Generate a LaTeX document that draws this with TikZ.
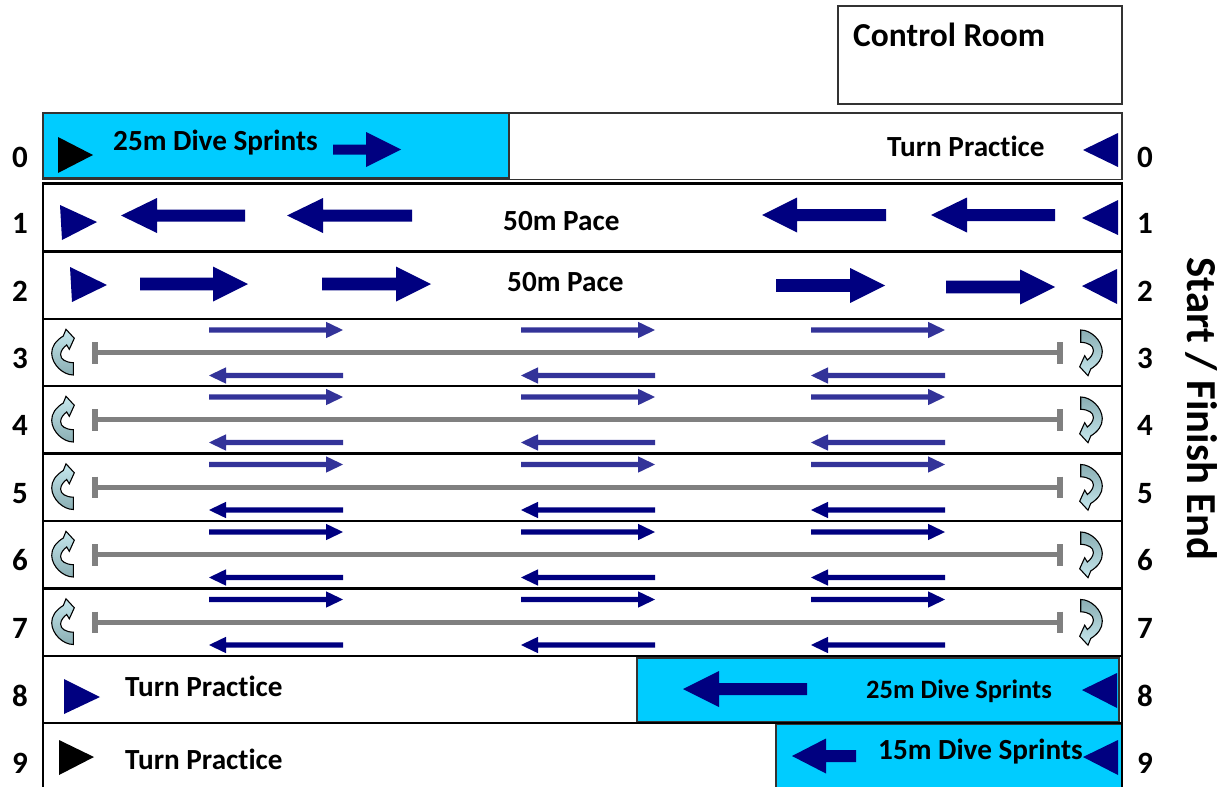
\documentclass[tikz,border=0pt]{standalone}
\usepackage{fontspec}
\setmainfont{Carlito}[Ligatures=CommonOff]
\definecolor{navyc}{HTML}{000080}
\definecolor{bluec}{HTML}{333399}
\definecolor{cyanc}{HTML}{00CCFF}
\definecolor{grayc}{HTML}{808080}
\definecolor{iconlt}{HTML}{C6E8EE}
\definecolor{icondk}{HTML}{8AAEB3}
\definecolor{boxline}{HTML}{333333}
\newcommand\blockarrow[7]{\fill[fill=#7] (#1,#4) -- (#2,#4-#6) -- (#2,#4-#5) -- (#3,#4-#5) -- (#3,#4+#5) -- (#2,#4+#5) -- (#2,#4+#6) -- cycle;}
\newcommand\uturnpath{(10.3,22.5) -- (10.3,10.2) .. controls (3,10) and (-2.5,7) .. (-2.4,2)
    .. controls (-2.3,-2) and (1,-5.5) .. (3.7,-7.5) -- (6.3,-3.2) -- (11.3,-14.2)
    -- (3,-23.2) -- (0.3,-16.5) .. controls (-7,-12) and (-11.5,-6) .. (-11.3,1)
    .. controls (-11,12) and (0,22.5) .. cycle}
\tikzset{
  lbl/.style={font=\fontsize{29.2}{31}\selectfont\bfseries, inner sep=0pt, anchor=base west},
  num/.style={font=\fontsize{31}{33}\selectfont\bfseries, inner sep=0pt, anchor=center},
  laneline/.style={line width=2.5pt, black},
  cyanbox/.style={fill=cyanc, draw=boxline, line width=1.5pt},
  iconL/.pic={\draw[line width=1.1pt, top color=iconlt, bottom color=icondk] \uturnpath;},
  iconR/.pic={\draw[line width=1.1pt, top color=icondk, bottom color=iconlt] \uturnpath;},
}
\begin{document}
\begin{tikzpicture}[x=1pt,y=-1pt]
\useasboundingbox[fill=white] (0,0) rectangle (1232,787);
% cyan boxes
\draw[cyanbox] (43,113) rectangle (509,178);
\draw[cyanbox] (637,658) rectangle (1119,722);
\draw[cyanbox] (776,724) rectangle (1122,790);
% control room
\draw[boxline, line width=1.5pt] (838,6) rectangle (1122,104);
\node[lbl, font=\fontsize{33.5}{35}\selectfont\bfseries] (ctrl) at (853,46.7) {Control Room};
% lane outlines
\draw[line width=1.8pt, boxline] (43,113) rectangle (1122,179.5);
\draw[laneline] (43,183.5) rectangle (1122,251.5);
\draw[laneline] (43,251.5) -- (43,790);
\draw[laneline] (1122,251.5) -- (1122,790);
\foreach \yy in {319,386,453.5,521,588.5,656,723} {\draw[laneline] (43,\yy) -- (1122,\yy);}
% lane numbers
\foreach \n/\yy in {0/157,1/223,2/291,3/358,4/425,5/494,6/560,7/628,8/696,9/763} {
  \node[num] (L\n) at (20,\yy) {\n};
  \node[num] (R\n) at (1145,\yy) {\n};
}
\node[font=\fontsize{42.7}{44}\selectfont\bfseries, rotate=-90, inner sep=0pt] (sfe) at (1201,409) {Start / Finish End};
% lane 0
\fill[black] (58,137) -- (93,155) -- (58,173) -- cycle;
\node[lbl] (t0a) at (113,150) {25m Dive Sprints};
\blockarrow{401}{366}{333}{149.5}{5}{17.5}{navyc}
\node[lbl] (t0b) at (887,156.7) {Turn Practice};
\fill[navyc] (1118,133) -- (1083,150) -- (1118,167) -- cycle;
% lane 1
\fill[navyc] (60,205) -- (97,222) -- (62,240) -- cycle;
\blockarrow{121}{157}{245}{215.5}{6}{17.5}{navyc}
\blockarrow{287}{323}{412}{215.5}{6}{17.5}{navyc}
\node[lbl] (t1) at (503,230) {50m Pace};
\blockarrow{762}{797}{886}{215}{6}{17.5}{navyc}
\blockarrow{931}{967}{1055}{215}{6}{17.5}{navyc}
\fill[navyc] (1118,200) -- (1082,218) -- (1118,235) -- cycle;
% lane 2
\fill[navyc] (70,267) -- (107,285) -- (72,302) -- cycle;
\blockarrow{248}{213}{140}{284}{6.3}{17.5}{navyc}
\blockarrow{431}{396}{322}{284}{6.3}{17.5}{navyc}
\node[lbl] (t2) at (507,291.7) {50m Pace};
\blockarrow{885}{850}{776}{285.5}{6.3}{17.5}{navyc}
\blockarrow{1055}{1020}{946}{287}{6.3}{17.5}{navyc}
\fill[navyc] (1117,269) -- (1082,286) -- (1117,304) -- cycle;
% lanes 3-7
\foreach \t/\cu/\cl in {319/bluec/bluec,386/bluec/bluec,453.5/bluec/navyc,521/navyc/navyc,588.5/navyc/navyc} {
  \foreach \a/\b in {209/343,521/655,811/945} {
    \blockarrow{\b}{\b-17}{\a}{\t+11}{2.7}{8.2}{\cu}
    \blockarrow{\a}{\a+17}{\b}{\t+56.5}{2.7}{8.2}{\cl}
  }
  \draw[grayc, line width=5pt] (93,\t+33.7) -- (1063,\t+33.7);
  \draw[grayc, line width=5.3pt] (95,\t+23) -- (95,\t+44.5);
  \draw[grayc, line width=5.3pt] (1060,\t+23) -- (1060,\t+44.5);
  \pic at (63,\t+33.5) {iconL};
  \pic[rotate=180] at (1091,\t+33.5) {iconR};
}
% lane 8
\fill[navyc] (64,679) -- (100,697) -- (64,714) -- cycle;
\node[lbl] (t8a) at (125,696.7) {Turn Practice};
\blockarrow{683}{719}{807}{689}{6}{18}{navyc}
\node[lbl, font=\fontsize{26.5}{28}\selectfont\bfseries] (t8b) at (866,698) {25m Dive Sprints};
\fill[navyc] (1117,673) -- (1082,690) -- (1117,708) -- cycle;
% lane 9
\fill[black] (59,740) -- (94,757) -- (59,775) -- cycle;
\node[lbl] (t9a) at (125,769.3) {Turn Practice};
\blockarrow{792}{826}{856}{756}{6}{17.5}{navyc}
\node[lbl] (t9b) at (878,759) {15m Dive Sprints};
\fill[navyc] (1118,740) -- (1083,757) -- (1118,775) -- cycle;
\end{tikzpicture}
\end{document}
